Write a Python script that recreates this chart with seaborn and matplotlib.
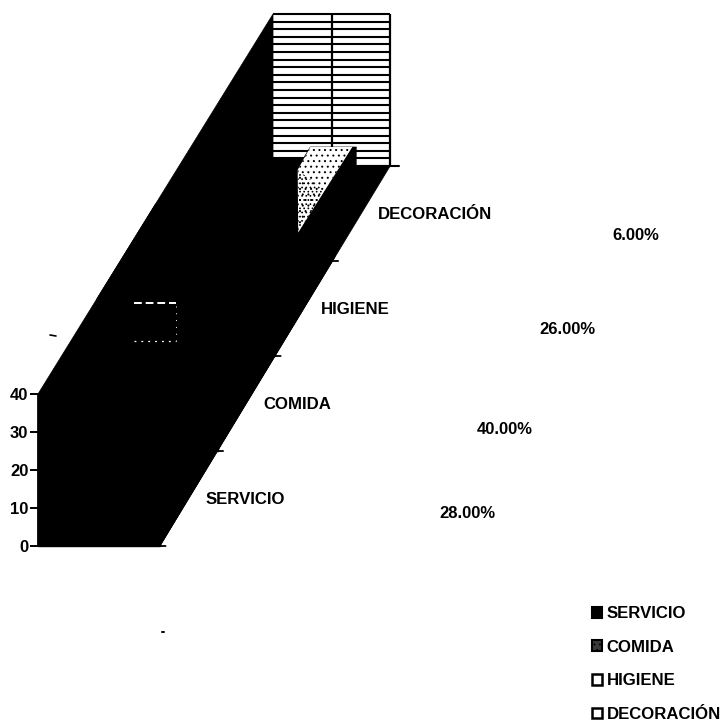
import numpy as np
import pandas as pd
import seaborn as sns
import matplotlib
matplotlib.use("Agg")
import matplotlib.pyplot as plt
from matplotlib.lines import Line2D
from matplotlib.patches import Polygon, Patch
from matplotlib.transforms import Affine2D

# Survey results
categories = ["SERVICIO", "COMIDA", "HIGIENE", "DECORACIÓN"]
values = [28, 40, 26, 6]

# Column extents along the two floor directions
front_depth = [0, 1, 2, 3]
back_depth = [1, 2, 3.04, 3.96]
span_left = [0, 0, 0, 0.339]
span_right = [1, 1, 1, 0.73]

value_ticks = [0, 10, 20, 30, 40]
wall_lines = np.arange(0, 41, 2)
WALL_DEPTH = 4

# Oblique projection: each unit of depth shifts right and up, and narrows slightly
SHIFT_X = 0.4816
SHIFT_Y = 25.0
NARROW = 0.01

W, H = 723, 724
FONT = "Liberation Sans"

sns.set_theme(style="white", font=FONT, rc={"hatch.linewidth": 0.7, "text.color": "black",
                                            "axes.labelcolor": "black", "ytick.labelcolor": "black"})
plt.rcParams["font.weight"] = "bold"


def project(frac, depth, value):
    return frac * (1 - NARROW * depth) + depth * SHIFT_X, value + depth * SHIFT_Y


def face(ax, corners, zorder, **kw):
    pts = [project(*c) for c in corners]
    kw.setdefault("facecolor", "black")
    kw.setdefault("edgecolor", "black")
    kw.setdefault("linewidth", 0.5)
    patch = Polygon(pts, closed=True, clip_on=False, zorder=zorder, **kw)
    ax.add_patch(patch)
    return patch


fig = plt.figure(figsize=(W / 100, H / 100), dpi=100)
ax = fig.add_axes([38 / W, (H - 546) / H, 122 / W, 152 / H])
ax.patch.set_alpha(0)

# Back wall with its gridlines
wall_x0, _ = project(0, WALL_DEPTH, 0)
wall_x1, _ = project(1, WALL_DEPTH, 0)
wall_mid, _ = project(0.5, WALL_DEPTH, 0)
wall_y = [project(0, WALL_DEPTH, v)[1] for v in wall_lines]
ax.hlines(wall_y, wall_x0, wall_x1, color="black", lw=1.5, zorder=1, clip_on=False)
ax.vlines([wall_mid, wall_x1], wall_y[0], wall_y[-1], color="black", lw=1.6, zorder=1, clip_on=False)

# Side wall and floor
face(ax, [(0, 0, 0), (0, WALL_DEPTH, 0), (0, WALL_DEPTH, 40), (0, 0, 40)], 2)
face(ax, [(0, 0, 0), (1, 0, 0), (1, WALL_DEPTH, 0), (0, WALL_DEPTH, 0)], 2)

# Front faces of the columns
frame = pd.DataFrame({"category": categories, "value": values})
sns.barplot(data=frame, x="category", y="value", color="black", saturation=1, width=1, ax=ax)
bars = ax.containers[0]
for i, bar in enumerate(bars):
    d = front_depth[i]
    bar.set_x(span_left[i])
    bar.set_width(span_right[i] - span_left[i])
    bar.set_transform(Affine2D().scale(1 - NARROW * d, 1).translate(d * SHIFT_X, d * SHIFT_Y) + ax.transData)
    bar.set_clip_on(False)
    bar.set_facecolor("black")
    bar.set_edgecolor("black")
    bar.set_zorder(3 + (3 - i) * 0.1)

# Tops and sides of the columns, drawn back to front
for i in reversed(range(len(values))):
    d0, d1 = front_depth[i], back_depth[i]
    l, r, v = span_left[i], span_right[i], values[i]
    z = 3 + (3 - i) * 0.1
    face(ax, [(l, d0, v), (r, d0, v), (r, d1, v), (l, d1, v)], z)
    face(ax, [(r, d0, 0), (r, d1, 0), (r, d1, v), (r, d0, v)], z)

# Speckled top of the rearmost column, denser towards the front
top_v = values[3]
face(ax, [(0.339, 3.96, top_v), (0.697, 3.96, top_v), (0.68, 3.06, top_v), (0.35, 3.72, top_v)],
     4, facecolor="white", edgecolor="black", hatch="...", linewidth=0)
face(ax, [(0.35, 3.72, top_v), (0.69, 3.5, top_v), (0.68, 3.06, top_v)],
     4.1, facecolor="none", edgecolor="black", hatch="....", linewidth=0)

# Faint outline on the front of the tallest column
sq_x0, sq_y0 = project(0.31, 1, 29)
sq_x1, sq_y1 = project(0.66, 1, 39)
ax.plot([sq_x0, sq_x1], [sq_y1, sq_y1], color="white", lw=1.4, ls=(0, (4, 2)), zorder=5, clip_on=False)
ax.plot([sq_x0, sq_x1], [sq_y0, sq_y0], color="white", lw=0.9, ls=(0, (1.5, 4)), zorder=5, clip_on=False)
ax.plot([sq_x1, sq_x1], [sq_y0, sq_y1], color="white", lw=0.7, ls=(0, (1, 6)), zorder=5, clip_on=False)

# Depth ticks and their labels
for i, cat in enumerate(categories):
    tx, ty = project(1, i, 0)
    ax.annotate("", xy=(tx, ty), xytext=(4, 0), textcoords="offset points",
                arrowprops=dict(arrowstyle="-", lw=1.3, color="black", shrinkA=0, shrinkB=0),
                annotation_clip=False, zorder=5)
    lx, ly = project(1, i + 0.5, 0)
    ax.annotate(cat, xy=(lx, ly), xytext=(12.0, -0.8), textcoords="offset points",
                ha="left", va="center", fontsize=12.1, fontweight="bold", color="black",
                annotation_clip=False)
base_x0, base_y = project(0.73, WALL_DEPTH, 0)
base_x1, _ = project(1, WALL_DEPTH, 0)
ax.plot([base_x0, base_x1 + 0.07], [base_y, base_y], color="black", lw=1.5, zorder=5, clip_on=False)

# Value axis
ax.set_xlim(0, 1)
ax.set_ylim(0, 40)
ax.set_xlabel("")
ax.set_ylabel("")
ax.set_xticks([])
ax.set_yticks(value_ticks)
ax.tick_params(axis="y", left=True, length=6, width=1.4, color="black", pad=1, labelsize=12,
               labelcolor="black")
for lab in ax.get_yticklabels():
    lab.set_fontweight("bold")
sns.despine(ax=ax, top=True, right=True, bottom=True)
ax.spines["left"].set_color("black")
ax.spines["left"].set_linewidth(1.2)

# Percentage of each category
pct_xy = [(467, 514), (505, 429), (567, 329), (636, 236)]
for v, (px, py) in zip(values, pct_xy):
    fig.text(px / W, 1 - py / H, f"{v:.2f}%", ha="center", va="center",
             fontsize=12, fontweight="bold", color="black")

# Stray marks on the page
fig.add_artist(Line2D([50 / W, 56 / W], [1 - 335 / H, 1 - 336 / H], color="black", lw=1.2))
fig.add_artist(Line2D([162 / W, 164 / W], [1 - 632 / H, 1 - 632 / H], color="black", lw=1.4))

# Legend
handles = [
    Patch(facecolor="black", edgecolor="black", linewidth=1.5, label=categories[0]),
    Patch(facecolor="#3a3a3a", edgecolor="black", linewidth=1.5, hatch="...", label=categories[1]),
    Patch(facecolor="white", edgecolor="black", linewidth=1.8, label=categories[2]),
    Patch(facecolor="white", edgecolor="black", linewidth=1.8, label=categories[3]),
]
legend = fig.legend(handles=handles, loc="upper left", bbox_to_anchor=(592 / W, 1 - 606 / H),
                    frameon=False, borderpad=0, borderaxespad=0, labelspacing=1.11,
                    handlelength=0.62, handleheight=0.62, handletextpad=0.25,
                    prop={"family": FONT, "weight": "bold", "size": 12.1})
for text in legend.get_texts():
    text.set_color("black")

fig.savefig("out.png", dpi=100, facecolor="white")
